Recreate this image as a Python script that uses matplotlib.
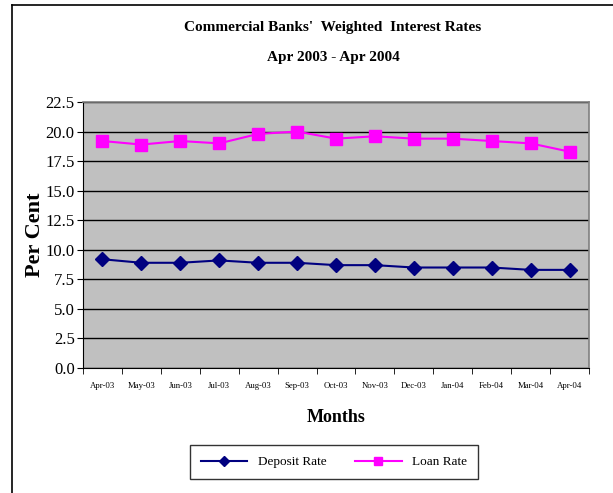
import matplotlib
matplotlib.use("Agg")
import matplotlib.pyplot as plt
from matplotlib.lines import Line2D
import numpy as np

months = ["Apr-03", "May-03", "Jun-03", "Jul-03", "Aug-03", "Sep-03", "Oct-03",
          "Nov-03", "Dec-03", "Jan-04", "Feb-04", "Mar-04", "Apr-04"]
deposit_rate = [9.2, 8.9, 8.9, 9.1, 8.9, 8.9, 8.7, 8.7, 8.5, 8.5, 8.5, 8.3, 8.3]
loan_rate = [19.2, 18.9, 19.2, 19.0, 19.8, 20.0, 19.4, 19.6, 19.4, 19.4, 19.2, 19.0, 18.3]
y_ticks = [0.0, 2.5, 5.0, 7.5, 10.0, 12.5, 15.0, 17.5, 20.0, 22.5]

plt.rcParams['font.family'] = ['Liberation Serif', 'DejaVu Serif']

W, H = 613, 493
fig = plt.figure(figsize=(W / 100, H / 100), dpi=100)
fig.patch.set_facecolor("white")

# outer border (top and left only visible)
fig.add_artist(Line2D([12 / W, 1.0], [1 - 5 / H, 1 - 5 / H], color="black", lw=1.2,
                      transform=fig.transFigure))
fig.add_artist(Line2D([12 / W, 12 / W], [0.0, 1 - 5 / H], color="black", lw=1.2,
                      transform=fig.transFigure))

ax = fig.add_axes([83 / W, 1 - 368 / H, (589 - 83) / W, (368 - 102) / H])
ax.set_facecolor("#C0C0C0")

x = np.arange(len(months))
ax.plot(x, deposit_rate, color="#000080", lw=1.5, marker="D", markersize=7,
        markerfacecolor="#000080", markeredgecolor="#000080", label="Deposit Rate", zorder=3)
ax.plot(x, loan_rate, color="#FF00FF", lw=1.5, marker="s", markersize=8,
        markerfacecolor="#FF00FF", markeredgecolor="#FF00FF", label="Loan Rate", zorder=3)

ax.set_xlim(-0.5, len(months) - 0.5)
ax.set_ylim(0, 22.5)
ax.set_yticks(y_ticks)
ax.set_yticklabels([f"{v:.1f}" for v in y_ticks], fontsize=12)
ax.yaxis.grid(True, color="black", lw=1)
ax.set_axisbelow(True)

ax.set_xticks(x)
ax.set_xticklabels(months, fontsize=6.3)
ax.tick_params(axis="x", length=0, pad=10)
ax.set_xticks(np.arange(-0.5, len(months), 1.0), minor=True)
ax.tick_params(axis="x", which="minor", length=4, direction="out", color="black")
ax.tick_params(axis="y", length=4, direction="out", color="black", pad=2)

for s in ["top", "right"]:
    ax.spines[s].set_color("#808080")
    ax.spines[s].set_linewidth(1.2)
ax.spines["left"].set_color("black")
ax.spines["bottom"].set_color("black")

ax.set_ylabel("Per Cent", fontsize=16, fontweight="bold", labelpad=0)
ax.set_xlabel("Months", fontsize=13, fontweight="bold", labelpad=14)

fig.text(333 / W, 1 - 27 / H, "Commercial Banks'  Weighted  Interest Rates",
         ha="center", va="center", fontsize=11, fontweight="bold")
fig.text(333 / W, 1 - 57 / H, "Apr 2003 - Apr 2004",
         ha="center", va="center", fontsize=11, fontweight="bold")

leg = fig.legend(loc="center", bbox_to_anchor=(334 / W, 1 - 462 / H), ncol=2,
                 fontsize=9.5, frameon=True, fancybox=False, edgecolor="black",
                 handlelength=3.5, columnspacing=2.2, borderpad=0.85, markerscale=0.75)
leg.get_frame().set_linewidth(1)

fig.savefig("out.png", dpi=100)
